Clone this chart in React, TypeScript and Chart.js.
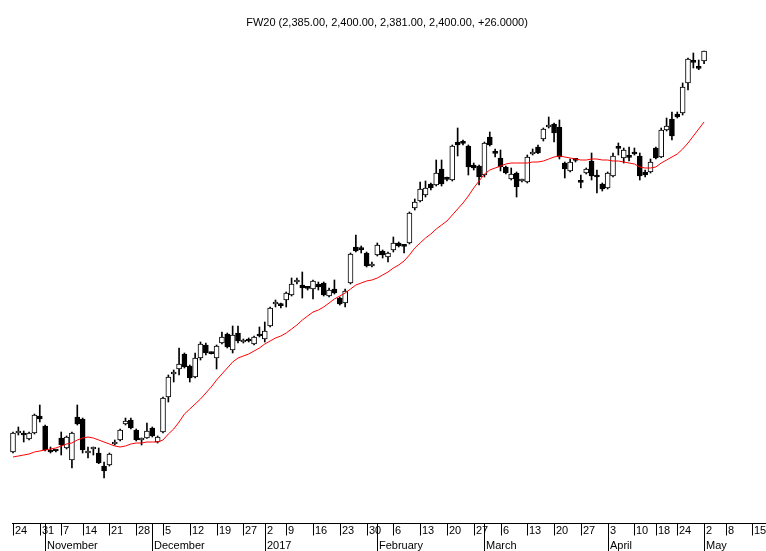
import React, { useEffect, useRef } from 'react';
import { Chart, registerables } from 'chart.js';

Chart.register(...registerables);

const TITLE = 'FW20 (2,385.00, 2,400.00, 2,381.00, 2,400.00, +26.0000)';

// Trading-day candles, 24 Oct 2016 .. 2 May 2017 (index = trading day)
const opens = [
  1798.5, 1827, 1827, 1818, 1827, 1852.5, 1837.5, 1801.5, 1801, 1819.5,
  1804.5, 1786.5, 1851, 1848, 1797, 1803, 1797, 1777.5, 1779, 1810.5,
  1816.5, 1840.5, 1846.5, 1831.5, 1816.5, 1819.5, 1834.5, 1813.5, 1828.5, 1881,
  1915.5, 1923, 1945.5, 1927.5, 1911, 1939.5, 1959, 1947, 1939.5, 1962,
  1975.5, 1951.5, 1977, 1963.5, 1968, 1960.5, 1975.5, 1968, 1987.5, 2020.5,
  2019, 2026.5, 2034, 2053.5, 2049, 2044.5, 2043, 2050.5, 2052, 2032.5,
  2043, 2029.5, 2022, 2052, 2106, 2103, 2097, 2077.5, 2094, 2100,
  2091, 2101.5, 2112, 2107.5, 2112, 2164.5, 2175, 2184, 2200.5, 2199,
  2223, 2208, 2206.5, 2263.5, 2262, 2257.5, 2229, 2227.5, 2214, 2271,
  2247, 2239.5, 2226, 2208, 2217, 2205, 2203.5, 2245.5, 2256, 2268,
  2286, 2290.5, 2286, 2232, 2220, 2236.5, 2203.5, 2217, 2235, 2214,
  2200.5, 2194.5, 2212.5, 2254.5, 2239.5, 2241, 2248.5, 2242.5, 2218.5, 2218.5,
  2254.5, 2241, 2281.5, 2298, 2305.5, 2307, 2352, 2383.5, 2377, 2385,
];
const highs = [
  1828.5, 1836, 1830, 1828.5, 1855.5, 1869, 1839, 1806, 1801.5, 1828.5,
  1822.5, 1828.5, 1869, 1849.5, 1806, 1806, 1804.5, 1783.5, 1797, 1816.5,
  1833, 1849.5, 1849.5, 1833, 1819.5, 1842, 1836, 1822.5, 1881, 1914,
  1921.5, 1954.5, 1947, 1929, 1947, 1963.5, 1962, 1948.5, 1959, 1978.5,
  1977, 1987.5, 1987.5, 1968, 1969.5, 1972.5, 1986, 1993.5, 2016, 2026.5,
  2022, 2038.5, 2059.5, 2059.5, 2068.5, 2046, 2056.5, 2053.5, 2053.5, 2044.5,
  2056.5, 2031, 2043, 2097, 2124, 2107.5, 2098.5, 2083.5, 2112, 2101.5,
  2098.5, 2121, 2113.5, 2109, 2158.5, 2178, 2203.5, 2205, 2202, 2236.5,
  2236.5, 2211, 2259, 2284.5, 2266.5, 2259, 2232, 2229, 2263.5, 2278.5,
  2253, 2251.5, 2227.5, 2224.5, 2218.5, 2208, 2244, 2253, 2259, 2284.5,
  2301, 2292, 2296.5, 2233.5, 2238, 2238, 2214, 2224.5, 2247, 2221.5,
  2202, 2218.5, 2247, 2262, 2254.5, 2256, 2254.5, 2247, 2221.5, 2238,
  2256, 2284.5, 2299.5, 2308.5, 2308.5, 2352, 2389.5, 2397, 2386.5, 2400,
];
const lows = [
  1797, 1824, 1813.5, 1816.5, 1825.5, 1843.5, 1800, 1797, 1798.5, 1794,
  1803, 1774.5, 1839, 1797, 1789.5, 1794, 1781, 1759.5, 1777.5, 1809,
  1815, 1839, 1833, 1815, 1809, 1819, 1821, 1812, 1827, 1873.5,
  1903.5, 1914, 1924.5, 1903.5, 1909.5, 1936.5, 1944, 1945.5, 1923, 1960.5,
  1954.5, 1947, 1962, 1962, 1963.5, 1959, 1971, 1963.5, 1986, 2016,
  2014.5, 2016, 2032.5, 2050.5, 2029.5, 2041.5, 2028, 2041.5, 2032.5, 2031,
  2035.5, 2019, 2016, 2050.5, 2098.5, 2097, 2076, 2076, 2092.5, 2089.5,
  2083.5, 2098.5, 2106, 2097, 2110.5, 2161.5, 2173.5, 2181, 2191.5, 2197.5,
  2197.5, 2205, 2205, 2242.5, 2259, 2214, 2221.5, 2199, 2211, 2257.5,
  2241, 2220, 2215.5, 2206.5, 2181, 2203.5, 2202, 2244, 2246, 2265,
  2284.5, 2263.5, 2238, 2209.5, 2218.5, 2233.5, 2194.5, 2215.5, 2206.5, 2187,
  2190, 2193, 2211, 2244, 2232, 2235, 2244, 2206.5, 2211, 2217,
  2238, 2240, 2280, 2266.5, 2299.5, 2304, 2341.5, 2374.5, 2372, 2381,
];
const closes = [
  1827, 1828.5, 1824, 1827, 1854, 1848, 1801.5, 1798.5, 1800, 1809,
  1821, 1827, 1840.5, 1801.5, 1800, 1803.5, 1782, 1770, 1795.5, 1813.5,
  1831.5, 1845, 1834.5, 1816.5, 1817, 1830, 1822.5, 1821, 1879.5, 1911,
  1917, 1930.5, 1926, 1909.5, 1939.5, 1960.5, 1947, 1946, 1957.5, 1971,
  1956, 1974, 1965, 1966.5, 1965, 1971, 1972.5, 1980, 2014.5, 2022,
  2018, 2037, 2050.5, 2055, 2044.5, 2044, 2055, 2046, 2034, 2041.5,
  2037, 2020.5, 2040, 2095.5, 2100, 2102, 2077.5, 2080.5, 2109, 2094,
  2097, 2112, 2107.5, 2107, 2157, 2173.5, 2193, 2194.5, 2194.5, 2217,
  2200.5, 2207.5, 2257.5, 2259, 2261.5, 2226, 2224.5, 2211, 2262, 2259,
  2246.5, 2226, 2217, 2215.5, 2196, 2206.5, 2241, 2247, 2247, 2283,
  2289, 2277, 2241, 2223, 2233.5, 2236, 2203, 2223, 2212.5, 2211,
  2193, 2217, 2242.5, 2254, 2251.5, 2240.5, 2245.5, 2212.5, 2214, 2233.5,
  2239.5, 2281.5, 2287.5, 2272.5, 2301, 2346, 2388, 2383, 2374, 2400,
];
const movingAverage = [
  1791, 1792.5, 1794, 1795.5, 1798.5, 1800, 1801.5, 1803, 1804.5, 1807.5,
  1810.5, 1812, 1816.5, 1819.5, 1821, 1819.5, 1816.5, 1813.5, 1810.5, 1807.5,
  1806, 1807.5, 1810.5, 1812, 1812, 1813.5, 1813.5, 1813.5, 1816.5, 1825.5,
  1833, 1843.5, 1855.5, 1863, 1870.5, 1878, 1887, 1896, 1906.5, 1915.5,
  1924.5, 1933.5, 1939.5, 1942.5, 1945.5, 1950, 1954.5, 1960.5, 1965, 1969.5,
  1972.5, 1977, 1983, 1989, 1996.5, 2002.5, 2008.5, 2011.5, 2016, 2022,
  2028, 2032.5, 2037, 2043, 2049, 2052, 2055, 2056.5, 2059.5, 2064,
  2068.5, 2074.5, 2079, 2085, 2094, 2104.5, 2112, 2119.5, 2125.5, 2133,
  2139, 2145, 2154, 2163, 2172, 2182.5, 2194.5, 2205, 2215.5, 2221.5,
  2224.5, 2227.5, 2230.5, 2232, 2232, 2232, 2232, 2233.5, 2233.5, 2235,
  2238, 2241, 2242.5, 2241, 2239.5, 2238, 2236.5, 2236.5, 2238, 2238,
  2236.5, 2236.5, 2235, 2235, 2233.5, 2232, 2230.5, 2226, 2224.5, 2224.5,
  2226, 2232, 2236.5, 2241, 2245.5, 2253, 2262, 2272.5, 2283, 2293.5,
];

// Axis: weekly ticks (trading-day index) and month starts
const dayTickIdx = [0, 5, 9, 13, 18, 23, 28, 33, 38, 43, 47, 51, 56, 61, 66, 71, 76, 81, 86, 91, 96, 101, 106, 111, 116, 120, 124, 129, 133, 138];
const dayTickLabels = ['24', '31', '7', '14', '21', '28', '5', '12', '19', '27', '2', '9', '16', '23', '30', '6', '13', '20', '27', '6', '13', '20', '27', '3', '10', '18', '24', '2', '8', '15'];
const monthIdx = [6, 26, 47, 68, 88, 111, 129];
const monthLabels = ['November', 'December', '2017', 'February', 'March', 'April', 'May'];

const FONT = '11px "Liberation Sans", Arial, sans-serif';

const axisPlugin = {
  id: 'dateAxis',
  afterDraw(chart: any) {
    const ctx = chart.ctx;
    const xs = chart.scales.x;
    const top = chart.chartArea.bottom + 0.5;
    ctx.save();
    ctx.strokeStyle = '#000';
    ctx.fillStyle = '#000';
    ctx.lineWidth = 1;
    ctx.font = FONT;
    ctx.textAlign = 'left';
    ctx.textBaseline = 'alphabetic';
    const x0 = Math.round(xs.getPixelForValue(dayTickIdx[0])) - 1;
    ctx.beginPath();
    ctx.moveTo(x0, top);
    ctx.lineTo(chart.width, top);
    ctx.stroke();
    dayTickIdx.forEach((v, k) => {
      const px = Math.round(xs.getPixelForValue(v)) + 0.5;
      ctx.beginPath();
      ctx.moveTo(px, top);
      ctx.lineTo(px, top + 12);
      ctx.stroke();
      ctx.fillText(dayTickLabels[k], px + 1.5, top + 10.5);
    });
    monthIdx.forEach((v, k) => {
      const px = Math.round(xs.getPixelForValue(v)) + 0.5;
      ctx.beginPath();
      ctx.moveTo(px, top);
      ctx.lineTo(px, chart.height);
      ctx.stroke();
      ctx.fillText(monthLabels[k], px + 1.5, top + 25.5);
    });
    ctx.textAlign = 'center';
    ctx.fillText(TITLE, 387, 25.5);
    ctx.restore();
  },
};

export default function App() {
  const ref = useRef<HTMLCanvasElement | null>(null);
  useEffect(() => {
    if (!ref.current) return;
    const wicks = opens.map((_, i) => ({ x: i, y: [lows[i], highs[i]] }));
    const bodies = opens.map((_, i) => ({ x: i, y: [opens[i], closes[i]] }));
    const bodyFill = opens.map((o, i) => (closes[i] > o ? '#ffffff' : '#000000'));
    const maData = movingAverage.map((v, i) => ({ x: i, y: v }));
    const chart = new Chart(ref.current, {
      type: 'bar',
      data: {
        datasets: [
          {
            type: 'line',
            data: maData as any,
            borderColor: '#ff0000',
            borderWidth: 1,
            pointRadius: 0,
            tension: 0,
            order: 0,
          } as any,
          {
            type: 'bar',
            data: bodies as any,
            backgroundColor: bodyFill,
            borderColor: '#000000',
            borderWidth: 1,
            borderSkipped: false,
            barThickness: 5,
            minBarLength: 2,
            grouped: false,
            order: 1,
          } as any,
          {
            type: 'bar',
            data: wicks as any,
            backgroundColor: '#000000',
            borderWidth: 0,
            barThickness: 1,
            minBarLength: 1,
            grouped: false,
            order: 2,
          } as any,
        ],
      },
      options: {
        responsive: false,
        animation: false,
        devicePixelRatio: 1,
        layout: { padding: { left: 0, right: 0, top: 0, bottom: 28 } },
        plugins: { legend: { display: false }, tooltip: { enabled: false }, title: { display: false } },
        scales: {
          x: { type: 'linear', min: -2.4267, max: 140.56, display: false, offset: false },
          y: { type: 'linear', min: 1692, max: 2476.5, display: false },
        },
      } as any,
      plugins: [axisPlugin],
    });
    return () => chart.destroy();
  }, []);
  return (
    <div style={{ position: 'fixed', left: 0, top: 0, width: 766, height: 551, background: '#fff' }}>
      <canvas ref={ref} width={766} height={551} />
    </div>
  );
}
